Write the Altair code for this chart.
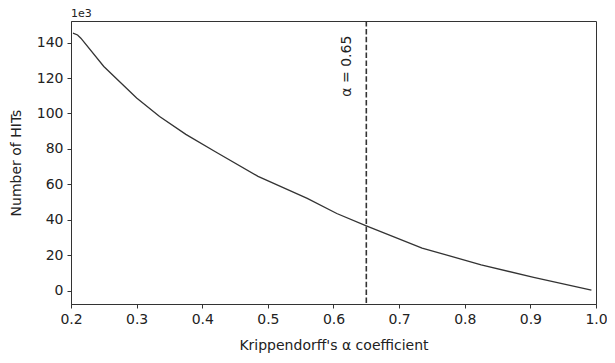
import altair as alt
import pandas as pd

alpha = [0.203, 0.210, 0.215, 0.250, 0.300, 0.335, 0.375, 0.420, 0.485, 0.560,
         0.605, 0.650, 0.735, 0.825, 0.905, 0.993]
hits = [145.3, 144.3, 142.5, 126.5, 108.7, 98.3, 88.2, 78.4, 64.5, 52.0,
        43.5, 36.5, 24.0, 14.5, 7.4, 0.2]
threshold = [0.65]
label_pos = [0.621, 126.7]
x_ticks = [0.2, 0.3, 0.4, 0.5, 0.6, 0.7, 0.8, 0.9, 1.0]
y_ticks = [0, 20, 40, 60, 80, 100, 120, 140]
x_domain = [0.2, 1.0]
y_domain = [-7.6, 152.2]

df = pd.DataFrame({"alpha": alpha, "hits": hits})
FONT = "DejaVu Sans"
INK = "#222222"

W, H = 525, 283

xs = alt.Scale(domain=x_domain, nice=False, zero=False)
ys = alt.Scale(domain=y_domain, nice=False, zero=False)

line = alt.Chart(df).mark_line(color="#333333", strokeWidth=1.3).encode(
    x=alt.X("alpha:Q", scale=xs,
            axis=alt.Axis(values=x_ticks, format=".1f",
                          title="Krippendorff's α coefficient",
                          titleX=W / 2, titleY=41, titleBaseline="middle",
                          titleAlign="center")),
    y=alt.Y("hits:Q", scale=ys,
            axis=alt.Axis(values=y_ticks, format="d", title="Number of HITs",
                          titleX=-55, titleY=H / 2, titleAngle=270,
                          titleAlign="center", titleBaseline="middle")),
)

rule = alt.Chart(pd.DataFrame({"t": threshold})).mark_rule(
    color="#333333", strokeWidth=1.6, strokeDash=[5.5, 2.4]
).encode(x=alt.X("t:Q", scale=xs))

lbl = alt.Chart(pd.DataFrame({"x": [label_pos[0]], "y": [label_pos[1]], "t": ["α = 0.65"]})).mark_text(
    angle=270, align="center", baseline="middle", font=FONT, fontSize=14, color=INK
).encode(x=alt.X("x:Q", scale=xs), y=alt.Y("y:Q", scale=ys), text="t:N")

offset_txt = alt.Chart(pd.DataFrame({"x": [x_domain[0]], "y": [y_domain[1]], "t": ["1e3"]})).mark_text(
    align="left", baseline="alphabetic", dy=-4, font=FONT, fontSize=11, color=INK
).encode(x=alt.X("x:Q", scale=xs), y=alt.Y("y:Q", scale=ys), text="t:N")

chart = (line + rule + lbl + offset_txt).properties(
    width=W, height=H,
    autosize=alt.AutoSizeParams(type="none"),
    padding={"left": 63, "top": 13, "right": 11, "bottom": 51},
).configure_view(stroke="#333333", strokeWidth=1).configure_axis(
    grid=False, domainColor="#333333", tickColor="#333333", tickSize=4,
    labelFont=FONT, labelFontSize=14, labelColor=INK, labelPadding=4,
    titleFont=FONT, titleFontSize=14, titleFontWeight="normal", titleColor=INK,
).configure_axisX(labelFlush=False).configure_axisY(labelFlush=False)

chart.save("out.html", embed_options={"renderer": "svg", "actions": False})
